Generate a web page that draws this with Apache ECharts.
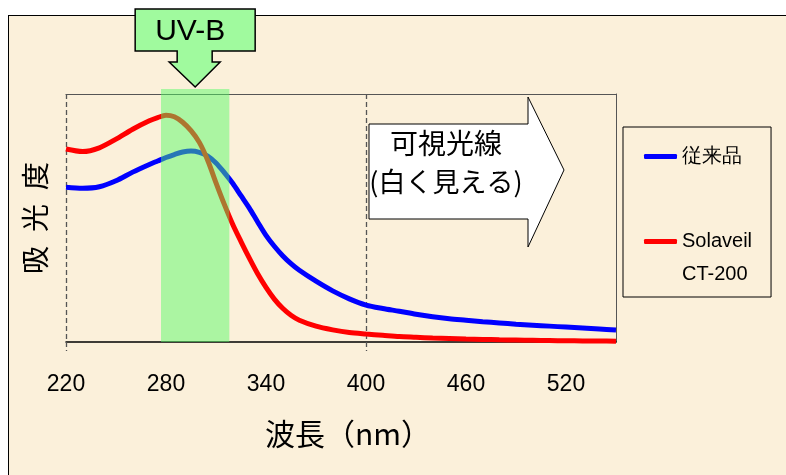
<!DOCTYPE html>
<html>
<head>
<meta charset="utf-8">
<script src="https://cdn.jsdelivr.net/npm/echarts@6/dist/echarts.min.js"></script>
<style>
  html, body { margin: 0; padding: 0; background: #ffffff; }
  #frame { position: absolute; left: 8px; top: 15px; width: 800px; height: 480px;
           background: #fbf0da; border-left: 1.5px solid #000; border-top: 1.5px solid #000; }
  #chart { position: absolute; left: 0; top: 0; width: 786px; height: 475px; }
</style>
</head>
<body>
<div id="frame"></div>
<div id="chart"></div>
<script>
// ---- data ----
const wavelengths = [220,230,240,250,260,270,
  275,280,285,290,295,300,305,310,315,320,325,330,335,340,345,350,355,360,
  370,380,390,400,410,420,430,440,450,460,470,480,490,500,510,520,530,540,550];
const conventional = [62.4,62.0,62.6,65.0,68.5,71.6,
  73.0,74.4,75.6,76.6,77.0,76.5,75.0,72.2,68.3,64.0,59.0,54.0,48.4,43.0,38.6,34.8,31.6,28.9,
  24.5,20.6,17.4,14.9,13.5,12.4,11.2,10.2,9.4,8.8,8.2,7.7,7.2,6.8,6.4,6.0,5.6,5.2,4.8];
const solaveil = [77.8,76.8,78.3,81.8,85.8,89.2,
  90.5,91.4,90.8,88.6,85.2,80.5,73.3,64.2,55.5,47.5,40.5,33.8,27.5,22.0,17.3,13.6,10.8,8.8,
  6.4,4.9,3.8,3.2,2.7,2.2,1.9,1.6,1.4,1.2,1.05,0.9,0.8,0.7,0.6,0.5,0.45,0.4,0.3];
const seriesNames = ['従来品', 'Solaveil CT-200'];
const uvbBand = [277, 318];
const dashedAt = [220, 400];
const visibleStart = 400;
const xTitle = '波長（nm）';
const yTitle = '吸\u2002光\u2002度';
const uvbLabel = 'UV-B';
const visibleLabel = ['可視光線', '(白く見える)'];

const pair = (xs, ys) => xs.map((x, i) => [x, ys[i]]);
const CJK = '"Noto Sans CJK JP", "Noto Sans", sans-serif';
const SANS = '"Liberation Sans", Arial, sans-serif';

const chart = echarts.init(document.getElementById('chart'), null, { renderer: 'canvas' });

const option = {
  backgroundColor: 'transparent',
  animation: false,
  grid: { left: 66, top: 94, right: 170, bottom: 133, containLabel: false },
  xAxis: [{
    type: 'value', min: 220, max: 550, interval: 60,
    axisLine: { show: true, onZero: false, lineStyle: { color: '#000', width: 1.5 } },
    axisTick: { show: false },
    splitLine: { show: false },
    axisLabel: { color: '#000', fontSize: 23, fontFamily: SANS, margin: 31, showMaxLabel: false },
    name: xTitle, nameLocation: 'middle', nameGap: 77,
    nameTextStyle: { color: '#000', fontSize: 30, fontFamily: CJK, padding: [0, 0, 0, 14] }
  }, {
    type: 'value', min: 220, max: 550, position: 'top',
    axisLine: { show: true, onZero: false, lineStyle: { color: '#555', width: 1 } },
    axisTick: { show: false }, axisLabel: { show: false }, splitLine: { show: false }
  }],
  yAxis: [{
    type: 'value', min: 0, max: 100,
    axisLine: { show: false, onZero: false }, axisTick: { show: false },
    axisLabel: { show: false }, splitLine: { show: false },
    name: yTitle, nameLocation: 'middle', nameRotate: 90, nameGap: 17,
    nameTextStyle: { color: '#000', fontSize: 28, fontFamily: CJK }
  }, {
    type: 'value', min: 0, max: 100, position: 'right',
    axisLine: { show: true, onZero: false, lineStyle: { color: '#555', width: 1 } },
    axisTick: { show: false }, axisLabel: { show: false }, splitLine: { show: false }
  }],
  legend: {
    orient: 'vertical', left: 623, top: 127,
    padding: [13, 19, 6, 21], itemGap: 19,
    borderColor: '#000', borderWidth: 1,
    itemWidth: 33, itemHeight: 5, icon: 'roundRect',
    data: seriesNames,
    formatter: name => name === seriesNames[1] ? '\n' + name.replace(' ', '\n') : name,
    textStyle: { color: '#000', fontSize: 20, fontFamily: SANS, lineHeight: 33 }
  },
  series: [{
    type: 'custom', name: 'grid-dash', z: 1, silent: true,
    data: dashedAt.map(v => [v]),
    encode: { x: 0 },
    renderItem: (params, api) => {
      const cs = params.coordSys;
      const x = Math.round(api.coord([api.value(0), 0])[0]) + 0.5;
      return { type: 'line', shape: { x1: x, y1: cs.y, x2: x, y2: cs.y + cs.height + 9 },
               style: { stroke: '#555', lineWidth: 1.3, lineDash: [5, 3] } };
    }
  }, {
    type: 'line', name: seriesNames[0], data: pair(wavelengths, conventional),
    showSymbol: false, symbol: 'none', smooth: 0.3, z: 2,
    itemStyle: { color: '#0000ff' },
    lineStyle: { color: '#0000ff', width: 5 }
  }, {
    type: 'line', name: seriesNames[1], data: pair(wavelengths, solaveil),
    showSymbol: false, symbol: 'none', smooth: 0.3, z: 2,
    itemStyle: { color: '#ff0000' },
    lineStyle: { color: '#ff0000', width: 5 }
  }, {
    type: 'custom', name: 'uvb', z: 5, silent: true, clip: false,
    data: [uvbBand],
    encode: { x: [0, 1] },
    renderItem: (params, api) => {
      const cs = params.coordSys;
      const x1 = api.coord([api.value(0), 0])[0];
      const x2 = api.coord([api.value(1), 0])[0];
      return { type: 'rect', shape: { x: x1, y: cs.y - 5, width: x2 - x1, height: cs.height + 5 },
               style: { fill: 'rgba(80,250,100,0.47)' } };
    }
  }]
};
chart.setOption(option);

// annotations positioned from the axis scale
const c = chart.convertToPixel({ xAxisIndex: 0 }, (uvbBand[0] + uvbBand[1]) / 2);
const v0 = chart.convertToPixel({ xAxisIndex: 0 }, visibleStart);
chart.setOption({
  graphic: [
    { type: 'polygon', z: 10,
      shape: { points: [[c-60,9],[c+60,9],[c+60,51],[c+17,51],[c+17,62],[c+25,62],[c,87],[c-26,62],[c-18,62],[c-18,51],[c-60,51]] },
      style: { fill: '#a0fa9e', stroke: '#000', lineWidth: 1.5 } },
    { type: 'text', z: 11, x: c - 5, y: 32,
      style: { text: uvbLabel, fill: '#000', font: '30px ' + SANS, align: 'center', verticalAlign: 'middle' } },
    { type: 'polygon', z: 10,
      shape: { points: [[v0+3,124],[v0+162,124],[v0+162,97],[v0+198,170],[v0+162,247],[v0+162,219],[v0+3,219]] },
      style: { fill: '#ffffff', stroke: '#000', lineWidth: 1 } },
    { type: 'text', z: 11, x: v0 + 80, y: 143,
      style: { text: visibleLabel[0], fill: '#000', font: '28px ' + CJK, align: 'center', verticalAlign: 'middle' } },
    { type: 'text', z: 11, x: v0 + 80, y: 182,
      style: { text: visibleLabel[1], fill: '#000', font: '27px ' + CJK, align: 'center', verticalAlign: 'middle' } }
  ]
});
</script>
</body>
</html>
